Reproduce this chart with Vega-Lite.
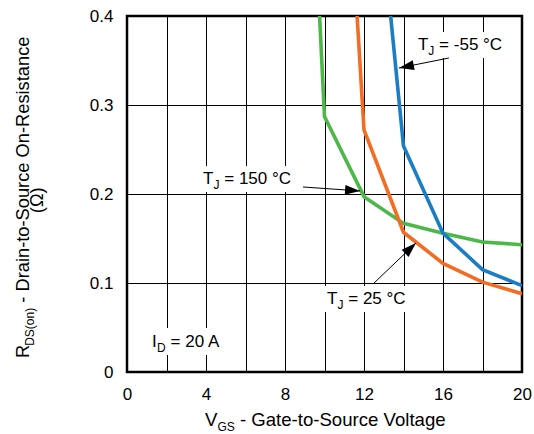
{
  "$schema": "https://vega.github.io/schema/vega-lite/v6.json",
  "width": 395,
  "height": 356,
  "autosize": {"type": "none"},
  "padding": {"left": 127, "top": 16, "right": 12, "bottom": 62},
  "background": "#ffffff",
  "config": {
    "font": "Liberation Sans",
    "view": {"stroke": "#000000", "strokeWidth": 2.5},
    "axis": {"labelFont": "Liberation Sans", "labelColor": "#000000", "labelFontSize": 17}
  },
  "datasets": {
    "curves": [
      {"series": "150", "x": 9.75, "y": 0.4},
      {"series": "150", "x": 10, "y": 0.287},
      {"series": "150", "x": 12, "y": 0.197},
      {"series": "150", "x": 14, "y": 0.167},
      {"series": "150", "x": 16, "y": 0.156},
      {"series": "150", "x": 18, "y": 0.146},
      {"series": "150", "x": 20, "y": 0.143},
      {"series": "25", "x": 11.65, "y": 0.4},
      {"series": "25", "x": 12, "y": 0.272},
      {"series": "25", "x": 14, "y": 0.157},
      {"series": "25", "x": 16, "y": 0.122},
      {"series": "25", "x": 18, "y": 0.101},
      {"series": "25", "x": 20, "y": 0.088},
      {"series": "-55", "x": 13.35, "y": 0.4},
      {"series": "-55", "x": 14, "y": 0.254},
      {"series": "-55", "x": 16, "y": 0.156},
      {"series": "-55", "x": 18, "y": 0.115},
      {"series": "-55", "x": 20, "y": 0.097}
    ],
    "labels": [
      {"x": 14.73, "y": 0.3618, "rest": "= -55 °C"},
      {"x": 3.85, "y": 0.2112, "rest": "= 150 °C"},
      {"x": 10.13, "y": 0.0764, "rest": "= 25 °C"}
    ],
    "idlabel": [{"x": 1.27, "y": 0.0281}],
    "arrows": [
      {"arrow": "a", "x": 16.3, "y": 0.3528},
      {"arrow": "a", "x": 13.77, "y": 0.3416},
      {"arrow": "b", "x": 8.91, "y": 0.2079},
      {"arrow": "b", "x": 11.8, "y": 0.2034},
      {"arrow": "c", "x": 12.51, "y": 0.1},
      {"arrow": "c", "x": 14.63, "y": 0.145}
    ],
    "heads": [
      {"arrow": "a", "x": 13.77, "y": 0.3416},
      {"arrow": "b", "x": 11.8, "y": 0.2034},
      {"arrow": "c", "x": 14.63, "y": 0.145}
    ],
    "xtitle": [{"x": 3.95, "y": -0.061}],
    "ytitle": [{"x": -4.96, "y": 0.0157}],
    "yunit": [{"x": -4.25, "y": 0.193}]
  },
  "encoding": {
    "x": {
      "field": "x",
      "type": "quantitative",
      "scale": {"domain": [0, 20], "nice": false, "zero": false},
      "axis": {
        "values": [0, 2, 4, 6, 8, 10, 12, 14, 16, 18, 20],
        "labelExpr": "datum.value % 4 === 0 ? datum.label : ''",
        "title": null,
        "grid": true,
        "gridColor": "#000000",
        "gridWidth": 1,
        "gridOpacity": 1,
        "domain": false,
        "ticks": false,
        "tickSize": 0,
        "labelPadding": 14,
        "labelFlush": false,
        "labelOverlap": false
      }
    },
    "y": {
      "field": "y",
      "type": "quantitative",
      "scale": {"domain": [0, 0.4], "nice": false, "zero": false},
      "axis": {
        "values": [0, 0.1, 0.2, 0.3, 0.4],
        "format": "~g",
        "title": null,
        "grid": true,
        "gridColor": "#000000",
        "gridWidth": 1,
        "gridOpacity": 1,
        "domain": false,
        "ticks": false,
        "tickSize": 0,
        "labelPadding": 14,
        "labelFlush": false,
        "labelOverlap": false
      }
    }
  },
  "layer": [
    {
      "data": {"name": "labels"},
      "mark": {"type": "rect", "color": "#ffffff", "opacity": 1, "xOffset": -6, "x2Offset": 94, "yOffset": -18, "y2Offset": 8},
      "encoding": {"x2": {"field": "x"}, "y2": {"field": "y"}}
    },
    {
      "data": {"name": "idlabel"},
      "mark": {"type": "rect", "color": "#ffffff", "opacity": 1, "xOffset": -7, "x2Offset": 76, "yOffset": -19, "y2Offset": 8},
      "encoding": {"x2": {"field": "x"}, "y2": {"field": "y"}}
    },
    {
      "data": {"name": "curves"},
      "mark": {"type": "line", "strokeWidth": 3.6, "clip": true},
      "encoding": {
        "color": {
          "field": "series",
          "type": "nominal",
          "scale": {"domain": ["150", "25", "-55"], "range": ["#4db848", "#f36c24", "#1b7ec4"]},
          "legend": null
        }
      }
    },
    {
      "data": {"name": "arrows"},
      "mark": {"type": "line", "color": "#000000", "strokeWidth": 1},
      "encoding": {"detail": {"field": "arrow", "type": "nominal"}}
    },
    {
      "data": {"name": "heads"},
      "transform": [{"filter": "datum.arrow === 'a'"}],
      "mark": {"type": "point", "shape": "M0,0L0.33,1L-0.33,1Z", "size": 900, "angle": 259, "filled": true, "color": "#000000", "opacity": 1}
    },
    {
      "data": {"name": "heads"},
      "transform": [{"filter": "datum.arrow === 'b'"}],
      "mark": {"type": "point", "shape": "M0,0L0.33,1L-0.33,1Z", "size": 900, "angle": 94, "filled": true, "color": "#000000", "opacity": 1}
    },
    {
      "data": {"name": "heads"},
      "transform": [{"filter": "datum.arrow === 'c'"}],
      "mark": {"type": "point", "shape": "M0,0L0.33,1L-0.33,1Z", "size": 900, "angle": 46, "filled": true, "color": "#000000", "opacity": 1}
    },
    {
      "data": {"name": "labels"},
      "mark": {"type": "text", "align": "left", "baseline": "alphabetic", "fontSize": 17, "color": "#000000"},
      "encoding": {"text": {"value": "T"}}
    },
    {
      "data": {"name": "labels"},
      "mark": {"type": "text", "align": "left", "baseline": "alphabetic", "fontSize": 12, "dx": 10.4, "dy": 5, "color": "#000000"},
      "encoding": {"text": {"value": "J"}}
    },
    {
      "data": {"name": "labels"},
      "mark": {"type": "text", "align": "left", "baseline": "alphabetic", "fontSize": 17, "dx": 21.2, "color": "#000000"},
      "encoding": {"text": {"field": "rest"}}
    },
    {
      "data": {"name": "idlabel"},
      "mark": {"type": "text", "align": "left", "baseline": "alphabetic", "fontSize": 17, "color": "#000000"},
      "encoding": {"text": {"value": "I"}}
    },
    {
      "data": {"name": "idlabel"},
      "mark": {"type": "text", "align": "left", "baseline": "alphabetic", "fontSize": 12, "dx": 5, "dy": 5, "color": "#000000"},
      "encoding": {"text": {"value": "D"}}
    },
    {
      "data": {"name": "idlabel"},
      "mark": {"type": "text", "align": "left", "baseline": "alphabetic", "fontSize": 17, "dx": 18.5, "color": "#000000"},
      "encoding": {"text": {"value": "= 20 A"}}
    },
    {
      "data": {"name": "xtitle"},
      "mark": {"type": "text", "align": "left", "baseline": "alphabetic", "fontSize": 18.6, "color": "#000000"},
      "encoding": {"text": {"value": "V"}}
    },
    {
      "data": {"name": "xtitle"},
      "mark": {"type": "text", "align": "left", "baseline": "alphabetic", "fontSize": 12, "dx": 12.4, "dy": 5, "color": "#000000"},
      "encoding": {"text": {"value": "GS"}}
    },
    {
      "data": {"name": "xtitle"},
      "mark": {"type": "text", "align": "left", "baseline": "alphabetic", "fontSize": 18.6, "dx": 34.9, "color": "#000000"},
      "encoding": {"text": {"value": "- Gate-to-Source Voltage"}}
    },
    {
      "data": {"name": "ytitle"},
      "mark": {"type": "text", "align": "left", "baseline": "alphabetic", "angle": 270, "fontSize": 18.3, "color": "#000000"},
      "encoding": {"text": {"value": "R"}}
    },
    {
      "data": {"name": "ytitle"},
      "mark": {"type": "text", "align": "left", "baseline": "alphabetic", "angle": 270, "fontSize": 12, "dx": 12.2, "dy": 5, "color": "#000000"},
      "encoding": {"text": {"value": "DS(on)"}}
    },
    {
      "data": {"name": "ytitle"},
      "mark": {"type": "text", "align": "left", "baseline": "alphabetic", "angle": 270, "fontSize": 18.3, "dx": 55.3, "color": "#000000"},
      "encoding": {"text": {"value": "- Drain-to-Source On-Resistance"}}
    },
    {
      "data": {"name": "yunit"},
      "mark": {"type": "text", "align": "center", "baseline": "alphabetic", "angle": 270, "fontSize": 18.3, "color": "#000000"},
      "encoding": {"text": {"value": "(Ω)"}}
    }
  ]
}
